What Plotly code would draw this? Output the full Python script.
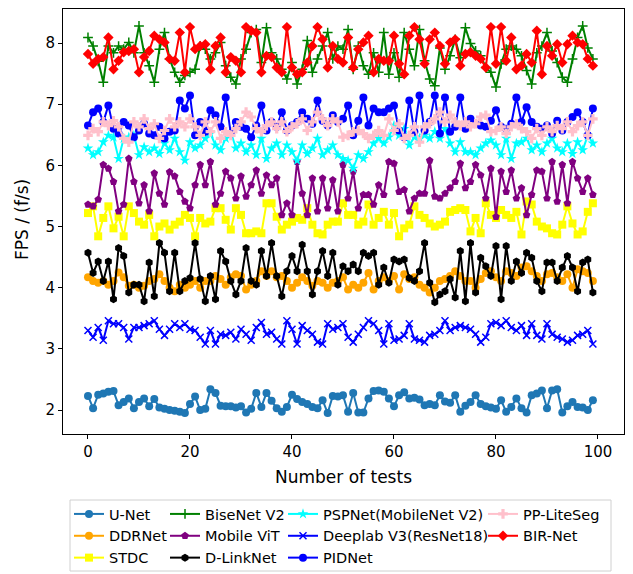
import plotly.graph_objects as go

tests = list(range(100))

unet = [2.23, 2.03, 2.25, 2.27, 2.30, 2.31, 2.08, 2.13, 2.19, 2.03,
        2.13, 2.19, 2.06, 2.18, 2.04, 2.02, 2.00, 1.99, 1.97, 1.95,
        2.10, 2.22, 2.00, 2.02, 2.34, 2.28, 2.07, 2.06, 2.06, 2.04,
        2.06, 1.96, 2.02, 2.28, 2.05, 2.28, 2.15, 2.03, 1.97, 2.05,
        2.25, 2.18, 2.13, 2.10, 2.05, 2.03, 2.16, 1.95, 2.23,
        2.22, 2.24, 1.97, 2.28, 1.96, 1.96, 2.19, 2.31, 2.32, 2.30,
        2.19, 2.06, 2.24, 2.29, 2.19, 2.20, 2.17, 2.08, 2.10, 2.08,
        2.24, 2.14, 2.12, 2.24, 1.97, 2.07, 2.13, 2.24, 2.10, 2.06,
        2.04, 2.02, 2.16, 1.97, 2.05, 2.19, 2.03, 1.96, 2.24, 2.27,
        2.32, 2.03, 2.32, 2.34, 1.96, 2.06, 2.13, 2.05, 2.04, 2.00,
        2.16]

ddrnet = [4.17, 4.11, 4.08, 4.11, 4.05, 4.11, 4.25, 4.17, 4.03, 4.05,
          4.00, 4.03, 4.11, 4.14, 4.22, 4.11, 4.00, 3.94, 4.05, 4.00,
          4.05, 4.11, 4.00, 4.11, 4.11, 4.19, 4.14, 4.05, 4.17, 4.22,
          4.19, 3.97, 4.05, 4.11, 4.27, 4.19, 4.27, 4.17, 4.19, 4.11,
          4.00, 4.08, 4.17, 4.11, 4.03, 4.11, 4.08, 4.00, 4.08, 4.11,
          4.17, 3.97,
          4.05, 4.00, 4.08, 4.24, 3.97, 4.11, 4.17, 4.11, 4.19, 3.97,
          4.22, 4.14, 4.17, 4.05, 4.00, 3.92, 4.00, 4.11, 4.14, 4.19,
          4.27, 4.19, 4.11, 4.11, 4.00, 4.14, 4.24, 4.27, 4.17, 4.11,
          4.27, 4.24, 4.19, 4.33, 4.35, 4.27, 4.19, 4.11, 4.22, 4.24,
          4.17, 4.11, 4.22, 4.00, 4.30, 4.27, 4.24, 4.11]

stdc = [5.22, 5.33, 4.84, 5.14, 5.33, 4.97, 5.16, 4.84, 5.33, 5.22,
        5.08, 5.03, 5.19, 4.84, 5.00, 5.05, 4.95, 5.03, 5.08, 5.19,
        5.14, 4.84, 5.14, 5.05, 5.08, 5.30, 5.30, 5.11, 4.95, 5.30,
        5.19, 4.89, 4.89, 4.92, 4.89, 5.38, 5.38, 5.16, 4.95, 5.03,
        5.08, 5.14, 5.11, 5.30, 5.03, 4.89, 4.87, 5.03, 5.08, 5.08,
        5.38, 5.19,
        5.19, 5.03, 5.08, 5.36, 5.03, 5.14, 5.24, 5.03, 5.22, 4.84,
        4.97, 5.03, 5.33, 5.19, 5.14, 5.05, 5.00, 5.03, 5.08, 5.24,
        5.27, 5.30, 5.27, 4.92, 5.14, 4.89, 5.38, 5.19, 5.14, 5.27,
        5.19, 5.14, 5.24, 4.87, 5.41, 5.36, 5.08, 5.00, 4.97, 4.89,
        4.87, 5.03, 5.33, 5.05, 4.87, 4.92, 5.24, 5.38]

bisenet = [8.09, 7.95, 7.70, 7.36, 7.95, 7.84, 7.95, 7.90, 8.01, 7.84,
           8.28, 7.84, 7.63, 7.36, 7.90, 8.17, 7.74, 7.52, 7.36, 7.47,
           7.52, 7.57, 7.95, 7.90, 7.74,
           7.84, 8.01, 7.63, 7.44, 7.33, 7.74, 7.90, 8.17, 8.22, 7.68,
           8.25, 7.84, 7.74, 7.57, 7.41, 7.68, 7.33, 7.57, 8.04, 7.52,
           7.74, 7.95, 8.17, 7.74, 7.95,
           7.90, 8.22, 7.57, 7.95, 7.63, 7.49, 7.84, 7.52, 8.17, 7.49,
           7.84, 7.44, 8.17, 7.90, 7.63, 8.22, 7.71, 7.41, 7.30, 7.92,
           7.57, 7.79, 8.06, 7.76, 8.25,
           7.99, 7.87, 7.79, 7.60, 7.52, 7.28, 7.66, 7.90, 7.95, 7.90,
           7.79, 7.55, 7.33, 7.84, 7.95, 8.17, 7.87, 7.68, 7.44, 7.36,
           7.74, 8.09, 8.28, 7.92, 7.74]

mobilevit = [5.36, 5.33, 5.44, 6.01, 5.95, 5.73, 5.25, 5.36, 6.11, 5.73,
             5.38, 5.68, 5.25, 5.87, 5.54, 5.36, 5.89, 5.82, 5.57, 5.41,
             5.30, 5.68, 6.01, 5.68, 6.06,
             5.36, 5.54, 5.90, 5.79, 5.46, 5.82, 5.49, 5.68, 5.92, 5.54,
             5.84, 5.68, 5.79, 5.19, 5.38, 5.19, 6.06, 5.54, 5.19, 5.79,
             5.25, 5.79, 5.30, 5.76, 5.25,
             6.01, 5.46, 5.90, 5.30, 5.52, 5.52, 5.36, 5.68, 5.52, 6.06,
             6.03, 5.57, 5.60, 5.25, 5.46, 5.54, 5.54, 6.08, 5.49, 5.46,
             5.54, 5.63, 5.73, 6.03, 5.63,
             5.73, 6.01, 5.84, 5.46, 5.95, 5.16, 5.90, 5.57, 5.92, 5.46,
             5.63, 5.19, 5.52, 5.92, 5.90, 5.46, 6.06, 5.41, 6.01, 5.38,
             6.06, 5.79, 5.57, 5.79, 5.52]

dlinknet = [4.57, 4.24, 4.43, 4.11, 4.43, 3.81, 4.65, 4.52, 3.92, 4.05,
            4.05, 3.78, 4.41, 3.86, 4.73, 4.57, 3.94, 4.57, 3.94, 4.11,
            4.16, 4.73, 4.14, 3.78, 4.19, 3.81, 4.60, 4.43, 4.11, 3.89,
            4.11, 4.65, 4.11, 4.05, 4.60, 4.19, 4.73, 4.19, 3.86, 4.27,
            4.52, 4.27, 4.70, 4.27, 3.89, 4.27, 4.60, 4.19, 4.57, 4.05,
            4.35, 4.27,
            4.38, 4.27, 4.57, 4.52, 4.57, 4.05, 4.33, 4.08, 4.46, 4.43,
            4.46, 4.16, 4.11, 4.27, 4.73, 4.08, 3.76, 3.89, 3.94, 4.14,
            3.84, 4.60, 3.78, 4.73, 3.92, 4.49, 4.35, 4.19, 4.68, 3.81,
            4.68, 4.11, 4.43, 4.24, 4.57, 4.49, 4.11, 3.94, 4.41, 4.41,
            4.11, 4.33, 4.52, 4.33, 3.94, 4.41, 4.46, 3.92]

pspnet = [6.28, 6.17, 6.22, 6.38, 6.49, 6.46, 6.11, 6.44, 6.46, 6.49,
          6.17, 6.30, 6.22, 6.28, 6.19, 6.36, 6.25, 6.44, 6.22, 6.08,
          6.38, 6.28, 6.33, 6.44, 6.52,
          6.33, 6.25, 6.44, 6.55, 6.28, 6.36, 6.22, 6.33, 6.17, 6.44,
          6.11, 6.28, 6.36, 6.17, 6.33, 6.22, 6.08, 6.33, 6.19, 6.28,
          6.44, 6.17, 6.25, 6.33, 6.17,
          6.11, 6.08, 5.95, 6.17, 6.11, 6.22, 6.36, 6.44, 6.36, 6.46,
          6.65, 6.49, 6.60, 6.33, 6.46, 6.44, 6.49, 6.44, 6.55, 6.44,
          6.60, 6.36, 6.22, 6.38, 6.22,
          6.22, 6.17, 6.28, 6.36, 6.41, 6.33, 6.17, 6.44, 6.11, 6.36,
          6.38, 6.44, 6.25, 6.33, 6.22, 6.36, 6.44, 6.28, 6.22, 6.36,
          6.19, 6.38, 6.25, 6.49, 6.36]

deeplab = [3.30, 3.19, 3.35, 3.14, 3.46, 3.41, 3.41, 3.35, 3.16, 3.35,
           3.35, 3.38, 3.41, 3.46, 3.32, 3.22, 3.32, 3.41, 3.35, 3.41,
           3.32, 3.30, 3.19, 3.08, 3.30, 3.08, 3.24, 3.22, 3.27, 3.16,
           3.32, 3.24, 3.14, 3.35, 3.43, 3.24, 3.27, 3.16, 3.08, 3.46,
           3.32, 3.08, 3.38, 3.30, 3.24, 3.11, 3.08, 3.41, 3.32, 3.35,
           3.41, 3.19,
           3.11, 3.24, 3.35, 3.46, 3.41, 3.30, 3.08, 3.41, 3.14, 3.16,
           3.22, 3.41, 3.16, 3.14, 3.11, 3.22, 3.24, 3.30, 3.46, 3.30,
           3.35, 3.38, 3.35, 3.32, 3.24, 3.11, 3.19, 3.41, 3.43, 3.38,
           3.46, 3.35, 3.30, 3.38, 3.22, 3.41, 3.22, 3.16, 3.41, 3.24,
           3.19, 3.16, 3.11, 3.14, 3.22, 3.24, 3.30, 3.08]

pidnet = [6.65, 6.87, 6.93, 6.71, 6.98, 6.60, 6.52, 6.71, 6.65, 6.46,
          6.57, 6.68, 6.52, 6.49, 6.63, 6.44, 6.55, 6.57, 7.06, 6.93,
          7.14, 6.49, 6.71, 6.55, 6.90,
          6.82, 6.63, 7.11, 6.52, 6.71, 6.63, 6.60, 6.46, 6.65, 6.98,
          6.57, 6.71, 6.63, 6.87, 6.57, 6.65, 6.71, 6.87, 6.76, 6.68,
          7.06, 6.73, 6.65, 6.82, 6.71,
          6.76, 6.98, 6.49, 6.73, 7.11, 6.65, 6.93, 6.87, 6.87, 6.93,
          6.98, 6.57, 6.46, 7.06, 6.55, 7.14, 6.57, 6.71, 7.14, 6.52,
          7.11, 6.55, 6.63, 7.11, 6.60,
          6.76, 6.68, 6.65, 6.63, 6.73, 6.90, 6.63, 6.60, 6.68, 7.11,
          6.71, 6.95, 6.71, 6.63, 6.60, 6.65, 6.52, 6.73, 6.57, 6.71,
          6.79, 6.87, 6.71, 6.49, 6.93]

ppliteseg = [6.49, 6.60, 6.55, 6.71, 6.65, 6.73, 6.63, 6.44, 6.38, 6.71,
             6.63, 6.76, 6.60, 6.68, 6.44, 6.57, 6.76, 6.63, 6.71, 6.63,
             6.76, 6.63, 6.49, 6.71, 6.55,
             6.71, 6.44, 6.55, 6.49, 6.60, 6.71, 6.87, 6.79, 6.60, 6.55,
             6.65, 6.71, 6.60, 6.71, 6.55, 6.63, 6.68, 6.76, 6.57, 6.71,
             6.87, 6.76, 6.65, 6.76, 6.71,
             6.46, 6.49, 6.55, 6.57, 6.52, 6.44, 6.49, 6.57, 6.49, 6.76,
             6.57, 6.68, 6.44, 6.49, 6.63, 6.38, 6.63, 6.68, 6.76, 6.87,
             6.71, 6.82, 6.71, 6.65, 6.71,
             6.63, 6.68, 6.79, 6.82, 6.55, 6.57, 6.63, 6.52, 6.63, 6.68,
             6.60, 6.55, 6.44, 6.60, 6.49, 6.63, 6.55, 6.65, 6.60, 6.71,
             6.55, 6.65, 6.71, 6.49, 6.76]

birnet = [7.82, 7.66, 7.74, 7.77, 8.09, 7.57, 7.71, 7.85, 7.87, 7.90,
          7.52, 7.77, 7.87, 8.12, 8.06, 8.01, 7.74, 7.71, 8.17, 7.52,
          8.26, 7.90, 7.95, 7.98, 7.57, 7.95, 8.09, 7.52, 7.77, 7.71,
          7.52, 8.26, 8.20, 8.17, 7.52, 7.79, 7.77, 7.60, 7.52, 8.26,
          7.60, 7.49, 7.52, 7.68, 7.95, 8.26, 8.06, 7.60, 7.95, 7.74,
          7.68, 8.09,
          7.60, 7.90, 8.01, 8.12, 7.52, 7.74, 7.71, 7.71, 8.12, 7.66,
          7.49, 8.12, 8.26, 8.06, 7.66, 8.06, 8.17, 7.95, 7.66, 8.01,
          8.06, 7.63, 7.82, 7.85, 7.79, 7.74, 7.60, 8.26, 7.66, 8.26,
          7.71, 8.09, 7.57, 7.63, 7.82, 7.68, 8.20, 7.49, 7.95, 7.79,
          7.98, 7.68, 7.98, 8.12, 8.01, 7.98, 7.74, 7.63]

# drawing order (same as the original code order)
series = [
    ("U-Net", unet), ("DDRNet", ddrnet), ("STDC", stdc),
    ("BiseNet V2", bisenet), ("Mobile ViT", mobilevit), ("D-LinkNet", dlinknet),
    ("PSPNet(MobileNet V2)", pspnet), ("Deeplab V3(ResNet18)", deeplab), ("PIDNet", pidnet),
    ("PP-LiteSeg", ppliteseg), ("BIR-Net", birnet),
]

styles = {
    "U-Net": ("#1f77b4", "circle", "legend"),
    "DDRNet": ("#FFA500", "circle", "legend"),
    "STDC": ("#FFFF00", "square", "legend"),
    "BiseNet V2": ("#008000", "cross-thin", "legend2"),
    "Mobile ViT": ("#800080", "pentagon", "legend2"),
    "D-LinkNet": ("#000000", "hexagon", "legend2"),
    "PSPNet(MobileNet V2)": ("#00FFFF", "star", "legend3"),
    "Deeplab V3(ResNet18)": ("#0000FF", "x-thin", "legend3"),
    "PIDNet": ("#0000FF", "circle", "legend3"),
    "PP-LiteSeg": ("#FFC0CB", "cross", "legend4"),
    "BIR-Net": ("#FF0000", "diamond", "legend4"),
}

fig = go.Figure()
for name, vals in series:
    assert len(vals) == 100, (name, len(vals))
    color, symbol, leg = styles[name]
    thin = symbol.endswith("-thin")
    fig.add_trace(go.Scatter(
        x=tests, y=vals, name=name, mode="lines+markers",
        line=dict(color=color, width=2),
        marker=dict(symbol=symbol, size=7 if thin else 8, color=color,
                    line=dict(color=color, width=1.5 if thin else 0)),
        legend=leg, legendgroup=name,
    ))

# the page shows the figure 8 px in from the top-left corner
OFF = 8
W, H = 625, 566
L, R, T, B = 55, 9, 1, 140
pw, ph = W - L - R, H - T - B


def cx(sx):
    return (sx - OFF) / W


def cy(sy):
    return 1 - (sy - OFF) / H


def px(sx):
    return (sx - OFF - L) / pw


def py(sy):
    return (H - B - (sy - OFF)) / ph


legfont = dict(family="DejaVu Sans", size=14.5, color="black")
common = dict(font=legfont, bgcolor="rgba(0,0,0,0)", borderwidth=0,
              xref="container", yref="container",
              xanchor="left", yanchor="top", traceorder="grouped",
              tracegroupgap=0, itemwidth=30)

fig.update_layout(
    width=W, height=H,
    margin=dict(l=L, r=R, t=T, b=B, autoexpand=False),
    paper_bgcolor="white", plot_bgcolor="white",
    font=dict(family="DejaVu Sans", color="black"),
    legend=dict(x=cx(69), y=cy(498), **common),
    legend2=dict(x=cx(165), y=cy(498), **common),
    legend3=dict(x=cx(283), y=cy(498), **common),
    legend4=dict(x=cx(483), y=cy(498), **common),
    shapes=[dict(type="rect", xref="paper", yref="paper",
                 x0=px(70), x1=px(611), y0=py(500), y1=py(571),
                 line=dict(color="#d0d0d0", width=1), fillcolor="rgba(0,0,0,0)")],
    annotations=[dict(text="FPS / (f/s)", xref="paper", yref="paper",
                      x=px(22), y=py(220), xanchor="center", yanchor="middle",
                      textangle=-90, showarrow=False,
                      font=dict(family="DejaVu Sans", size=17, color="black"))],
)

axis_common = dict(showline=True, linecolor="black", linewidth=1, mirror=True,
                   ticks="outside", ticklen=4, tickwidth=1, tickcolor="black",
                   showgrid=False, zeroline=False,
                   tickfont=dict(family="DejaVu Sans", size=15, color="black"))

fig.update_xaxes(range=[-4.9, 105.1], tickvals=[0, 20, 40, 60, 80, 100],
                 title=dict(text="Number of tests", font=dict(size=17), standoff=11),
                 **axis_common)
fig.update_yaxes(range=[1.608, 8.556], tickvals=[2, 3, 4, 5, 6, 7, 8],
                 **axis_common)

fig.write_html("out.html")
